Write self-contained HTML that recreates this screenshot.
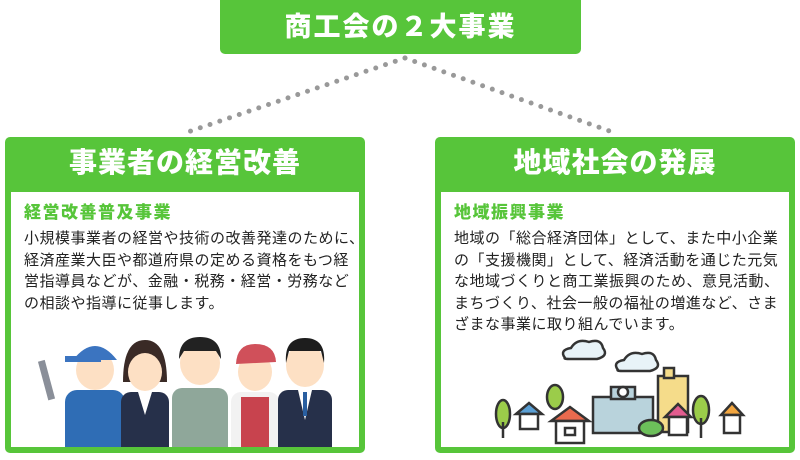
<!DOCTYPE html>
<html><head><meta charset="utf-8"><style>
*{margin:0;padding:0;box-sizing:border-box}
body{width:800px;height:460px;background:#fff;position:relative;overflow:hidden;font-family:"Liberation Sans","Noto Sans CJK JP",sans-serif}
.g{background:#57c53a}
.top{position:absolute;left:220px;top:0;width:361px;height:54px;border-radius:0 0 5px 5px;color:#fff;font-weight:900;font-size:27px;text-align:center;line-height:54px;letter-spacing:2px}
.box{position:absolute;top:137px;height:316px;border-radius:5px}
.box h2{color:#fff;font-size:28px;font-weight:900;text-align:center;height:55px;line-height:52px;letter-spacing:1px}
.inner{position:absolute;left:6px;right:6px;top:55px;bottom:6px;background:#fff;overflow:hidden}
.sub{position:absolute;left:13px;top:6px;color:#57c53a;font-weight:900;font-size:17px;letter-spacing:1.5px}
.txt{position:absolute;left:13px;top:36px;font-size:15px;line-height:21.6px;letter-spacing:0.5px;color:#222;white-space:nowrap}
</style></head><body>
<div class="top g">商工会の２大事業</div>
<svg style="position:absolute;left:0;top:0" width="800" height="140">
<line x1="405" y1="58" x2="185" y2="133" stroke="#999" stroke-width="5" stroke-linecap="round" stroke-dasharray="0 10.3"/>
<line x1="405" y1="58" x2="615" y2="133" stroke="#999" stroke-width="5" stroke-linecap="round" stroke-dasharray="0 10.3"/>
</svg>
<div class="box g" style="left:5px;width:360px">
<h2>事業者の経営改善</h2>
<div class="inner">
<div class="sub">経営改善普及事業</div>
<div class="txt">小規模事業者の経営や技術の改善発達のために、<br>経済産業大臣や都道府県の定める資格をもつ経<br>営指導員などが、金融・税務・経営・労務など<br>の相談や指導に従事します。</div>
<svg style="position:absolute;left:0;top:0" width="348" height="262">
<g transform="translate(84,178)">
<rect x="-30" y="20" width="60" height="70" rx="12" fill="#2f6db5"/>
<rect x="-52" y="-10" width="7" height="40" fill="#8a8f99" transform="rotate(-15,-48,10)"/>
<ellipse cx="0" cy="0" rx="19" ry="20" fill="#fde0c4"/>
<path d="M-22 -10 Q0 -38 22 -10 Z" fill="#3b74c0"/>
<rect x="-30" y="-14" width="36" height="6" fill="#3b74c0"/>
</g>
<g transform="translate(134,178)">
<rect x="-24" y="22" width="48" height="70" rx="10" fill="#26304a"/>
<path d="M-22 12 Q-22 -30 0 -30 Q22 -30 22 12Z" fill="#3a2a26"/>
<ellipse cx="0" cy="2" rx="17" ry="19" fill="#fde0c4"/>
<path d="M-7 22 L0 45 L7 22Z" fill="#fff"/>
</g>
<g transform="translate(189,171)">
<rect x="-28" y="25" width="56" height="70" rx="10" fill="#8fa79a"/>
<ellipse cx="0" cy="0" rx="20" ry="22" fill="#fde0c4"/>
<path d="M-21 -4 Q-21 -26 0 -26 Q21 -26 21 -4 L16 -12 L-16 -12Z" fill="#222"/>
</g>
<g transform="translate(244,180)">
<rect x="-24" y="20" width="48" height="70" rx="10" fill="#f2f2f2"/>
<rect x="-14" y="25" width="28" height="65" fill="#c8434e"/>
<ellipse cx="0" cy="0" rx="17" ry="19" fill="#fde0c4"/>
<path d="M-19 -8 Q-18 -28 0 -28 Q20 -28 21 -10 Z" fill="#d0505a"/>
</g>
<g transform="translate(294,173)">
<rect x="-27" y="25" width="54" height="70" rx="10" fill="#26304a"/>
<ellipse cx="0" cy="0" rx="19" ry="22" fill="#fde0c4"/>
<path d="M-19 -2 Q-21 -27 0 -27 Q21 -27 19 -2 L16 -14 L-16 -14Z" fill="#1d1d1d"/>
<path d="M-7 25 L0 55 L7 25Z" fill="#fff"/>
<rect x="-2" y="27" width="4" height="24" fill="#2a5fa0"/>
</g>
</svg>
</div>
</div>
<div class="box g" style="left:435px;width:360px">
<h2>地域社会の発展</h2>
<div class="inner">
<div class="sub">地域振興事業</div>
<div class="txt">地域の「総合経済団体」として、また中小企業<br>の「支援機関」として、経済活動を通じた元気<br>な地域づくりと商工業振興のため、意見活動、<br>まちづくり、社会一般の福祉の増進など、さま<br>ざまな事業に取り組んでいます。</div>
<svg style="position:absolute;left:0;top:0" width="348" height="262" fill="none" stroke="#333" stroke-width="2.5">
<path d="M124 166 q-6-8 6-10 q6-10 18-6 q12-4 14 6 q6 8-6 11 h-26 q-8 0-6-1z" fill="#e8f3f8"/>
<path d="M177 178 q-6-8 6-10 q6-10 18-6 q12-4 14 6 q6 8-6 11 h-26 q-8 0-6-1z" fill="#e8f3f8"/>
<rect x="217" y="184" width="30" height="56" fill="#f5dc8a"/>
<rect x="223" y="176" width="10" height="10" fill="#f5dc8a"/>
<rect x="152" y="205" width="60" height="36" fill="#b9d3dc"/>
<rect x="170" y="195" width="24" height="12" fill="#b9d3dc"/>
<circle cx="182" cy="200" r="5" fill="#fff"/>
<path d="M110 229 l19-14 l19 14z" fill="#e86a4e"/><rect x="115" y="229" width="28" height="22" fill="#fff"/><rect x="124" y="236" width="10" height="7"/>
<path d="M75 222 l13-11 l13 11z" fill="#5a9fd4"/><rect x="79" y="222" width="18" height="15" fill="#fff"/>
<path d="M224 225 l13-13 l13 13z" fill="#e25c8f"/><rect x="228" y="225" width="18" height="18" fill="#fff"/>
<path d="M280 223 l11-12 l11 12z" fill="#f2a640"/><rect x="283" y="223" width="16" height="18" fill="#fff"/>
<ellipse cx="62" cy="222" rx="7" ry="14" fill="#9bcc4a"/><line x1="62" y1="230" x2="62" y2="246"/>
<ellipse cx="114" cy="205" rx="8" ry="12" fill="#9bcc4a"/>
<ellipse cx="260" cy="218" rx="8" ry="14" fill="#9bcc4a"/><line x1="260" y1="226" x2="260" y2="246"/>
<ellipse cx="210" cy="236" rx="12" ry="8" fill="#6cbf5a"/>
</svg>
</div>
</div>
</body></html>
